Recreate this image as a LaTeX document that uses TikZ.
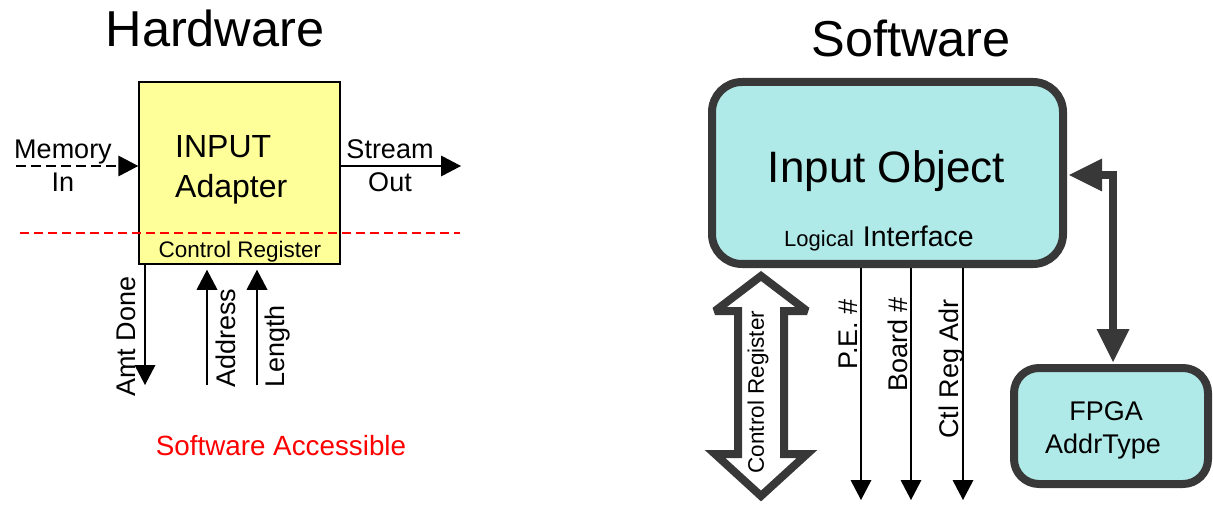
\documentclass[tikz,border=0pt]{standalone}
\usepackage{fontspec}
\setmainfont{Liberation Sans}
\usetikzlibrary{arrows.meta}

\definecolor{hwfill}{RGB}{255,255,153}
\definecolor{swfill}{RGB}{176,234,232}
\definecolor{edgegray}{RGB}{56,56,56}
\definecolor{accred}{RGB}{255,0,0}

\newcommand\fsz[1]{\fontsize{#1}{#1}\selectfont}

\tikzset{
  title/.style={font=\fsz{50.5}, inner sep=0pt},
  label/.style={font=\fsz{27}, inner sep=0pt},
  thinarrow/.style={line width=1.8pt, -{Triangle[length=20pt, width=21pt, line width=0pt]}},
  thickarrow/.style={line width=8pt, edgegray,
    {Triangle[length=33pt, width=33pt, line width=0pt]}-{Triangle[length=33pt, width=33pt, line width=0pt]}},
  hwbox/.style={draw=black, line width=1.5pt, fill=hwfill, inner sep=0pt},
  swbox/.style={draw=edgegray, line width=8pt, fill=swfill, inner sep=0pt},
}

\begin{document}
\begin{tikzpicture}[x=1pt, y=-1pt]
\useasboundingbox (0,0) rectangle (1213,505);

% ---------------- Hardware side ----------------
\node[title, anchor=base] (hwtitle) at (215,47) {Hardware};

\node[hwbox, minimum width=201pt, minimum height=182pt] (adapter) at (239.5,173) {};
\node[font=\fsz{32}, inner sep=0pt, anchor=base west] (adtop) at (175,158) {INPUT};
\node[font=\fsz{32}, inner sep=0pt, anchor=base west] (adbot) at (175,198) {Adapter};
\node[font=\fsz{22.5}, inner sep=0pt, anchor=base] (ctlreg) at (240,258) {Control Register};

% boundary of the software-visible part
\draw[accred, line width=1.2pt, dash pattern=on 9pt off 5pt] (20,233) -- (460,233);

% memory input (dashed) and stream output
\coordinate (memin) at (16,166);
\draw[thinarrow, dash pattern=on 10pt off 5pt] (memin) -- (adapter.west |- memin);
\node[label, anchor=base] (memlbl) at (63,159) {Memory};
\node[label, anchor=base] (inlbl) at (63,192) {In};

\coordinate (sout) at (461,166);
\draw[thinarrow] (adapter.east |- sout) -- (sout);
\node[label, anchor=base] (strlbl) at (390,159) {Stream};
\node[label, anchor=base] (outlbl) at (390,192) {Out};

% control register signals
\coordinate (amt) at (145,385);
\coordinate (addr) at (207,385);
\coordinate (len) at (257,385);
\draw[thinarrow] (adapter.south -| amt) -- (amt);
\draw[thinarrow, shorten >=5pt] (addr) -- (addr |- adapter.south);
\draw[thinarrow, shorten >=5pt] (len) -- (len |- adapter.south);
\node[label, rotate=90, anchor=base west] (amtlbl) at (135,397) {Amt Done};
\node[label, rotate=90, anchor=base west] (addrlbl) at (235,388) {Address};
\node[label, rotate=90, anchor=base west] (lenlbl) at (284,388) {Length};

\node[font=\fsz{27.8}, inner sep=0pt, text=accred, anchor=base] (swacc) at (281,455) {Software Accessible};

% ---------------- Software side ----------------
\node[title, anchor=base] (swtitle) at (911,57) {Software};

\node[swbox, rounded corners=30pt, minimum width=351pt, minimum height=182pt] (inobj) at (887.5,173) {};
\node[font=\fsz{44}, inner sep=0pt, anchor=base] (inobjlbl) at (886.5,183) {Input Object};
\node[inner sep=0pt, anchor=base west] (logif) at (784,247)
  {{\fsz{22}Logical}\hspace{9pt}{\fsz{28.5}Interface}};

% hollow double arrow for the control register
\draw[edgegray, line width=8pt, fill=white, line join=miter, miter limit=3]
  (761,276) -- (807,311) -- (784,311) -- (784,454) -- (807,454) -- (761,496)
  -- (715,454) -- (738,454) -- (738,311) -- (715,311) -- cycle;
\node[font=\fsz{22.5}, inner sep=0pt, rotate=90] (ctlreg2) at (758,392) {Control Register};

% addressing signals out of the logical interface
\coordinate (pe) at (861,500);
\coordinate (board) at (911,500);
\coordinate (ctladr) at (963,500);
\draw[thinarrow] (inobj.south -| pe) -- (pe);
\draw[thinarrow] (inobj.south -| board) -- (board);
\draw[thinarrow] (inobj.south -| ctladr) -- (ctladr);
\node[label, rotate=90, anchor=base east] (pelbl) at (857,299) {P.E. \#};
\node[label, rotate=90, anchor=base east] (boardlbl) at (907,297) {Board \#};
\node[label, rotate=90, anchor=base east] (ctladrlbl) at (958,299) {Ctl Reg Adr};

% FPGA address type object
\node[swbox, rounded corners=25pt, minimum width=194pt, minimum height=116pt] (fpga) at (1111,426) {};
\node[label, anchor=base] (fpgalbl1) at (1106,420) {FPGA};
\node[label, anchor=base] (fpgalbl2) at (1103,453) {AddrType};

\coordinate (bend) at (1113,175);
\draw[thickarrow, shorten <=2pt, shorten >=2pt] (inobj.east |- bend) -- (bend) -- (bend |- fpga.north);
\end{tikzpicture}
\end{document}
